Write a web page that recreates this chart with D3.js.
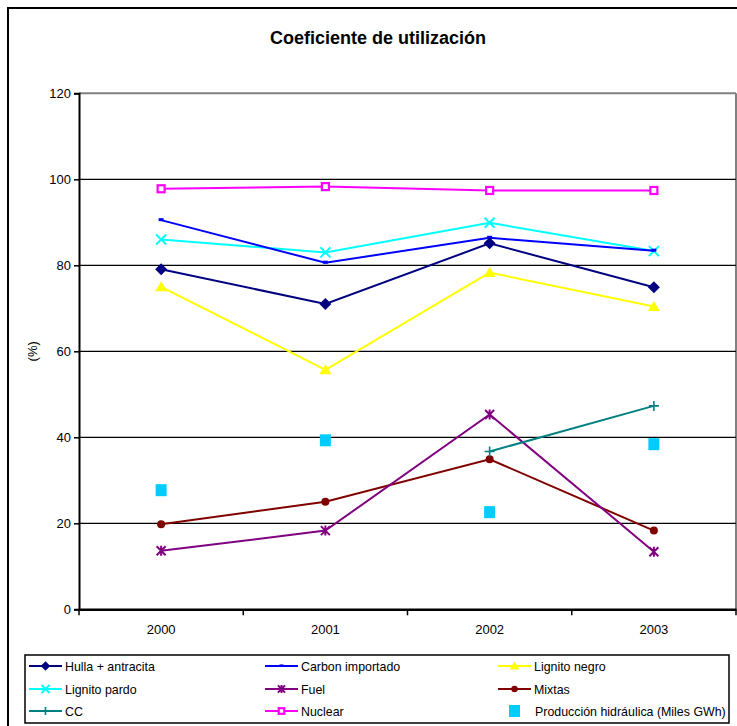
<!DOCTYPE html>
<html><head><meta charset="utf-8">
<script src="https://cdn.jsdelivr.net/npm/d3@7/dist/d3.min.js"></script>
<style>body{margin:0;background:#fff}svg{display:block;font-family:Arial,"Liberation Sans",sans-serif}</style>
</head><body><svg id="c" width="737" height="726"></svg>
<script>
const years = ["2000","2001","2002","2003"];
const yTicks = [0,20,40,60,80,100,120];
const hulla = [79.1, 71.0, 85.1, 74.9];
const carbon = [90.5, 80.6, 86.4, 83.4];
const lignitoNegro = [75.0, 55.7, 78.3, 70.4];
const lignitoPardo = [86.0, 83.0, 89.9, 83.3];
const fuel = [13.6, 18.3, 45.3, 13.4];
const mixtas = [19.8, 25.0, 34.9, 18.3];
const cc = [null, null, 36.7, 47.3];
const nuclear = [97.8, 98.3, 97.4, 97.4];
const hidraulica = [27.7, 39.3, 22.6, 38.4];

const series = [
  {name:"Hulla + antracita", values:hulla, color:"#000080", marker:"diamond"},
  {name:"Carbon importado", values:carbon, color:"#0000FF", marker:"dash"},
  {name:"Lignito negro", values:lignitoNegro, color:"#FFFF00", marker:"triangle"},
  {name:"Lignito pardo", values:lignitoPardo, color:"#00FFFF", marker:"x"},
  {name:"Fuel", values:fuel, color:"#800080", marker:"asterisk"},
  {name:"Mixtas", values:mixtas, color:"#800000", marker:"circle"},
  {name:"CC", values:cc, color:"#008080", marker:"plus"},
  {name:"Nuclear", values:nuclear, color:"#FF00FF", marker:"square"},
  {name:"Producción hidráulica (Miles GWh)", values:hidraulica, color:"#00CCFF", marker:"bigsquare", noLine:true}
];

const svg = d3.select("#c");
const L = 79, R = 736, T = 93.3, B = 609.3;
const x = d3.scaleBand().domain(years).range([L, R]);
const y = d3.scaleLinear().domain([0,120]).range([B, T]);

// outer frame
svg.append("rect").attr("x",8).attr("y",8).attr("width",760).attr("height",760)
  .attr("fill","none").attr("stroke","#000").attr("stroke-width",2);

// title
svg.append("text").attr("x",378).attr("y",43.5).attr("text-anchor","middle")
  .attr("font-size",18).attr("font-weight","bold").text("Coeficiente de utilización");

// plot border (gray top/right)
svg.append("line").attr("x1",L).attr("x2",R).attr("y1",T).attr("y2",T).attr("stroke","#808080").attr("stroke-width",2);
svg.append("line").attr("x1",R).attr("x2",R).attr("y1",T).attr("y2",B).attr("stroke","#808080").attr("stroke-width",2);

// gridlines
svg.append("g").selectAll("line").data(yTicks.filter(d=>d>0 && d<120)).join("line")
  .attr("x1",L).attr("x2",R).attr("y1",d=>y(d)).attr("y2",d=>y(d)).attr("stroke","#000").attr("stroke-width",1.3);

// y axis
const ya = svg.append("g").attr("transform",`translate(${L},0)`)
  .call(d3.axisLeft(y).tickValues(yTicks).tickSize(5).tickPadding(3));
ya.select(".domain").attr("stroke","#000").attr("stroke-width",2);
ya.selectAll(".tick line").attr("stroke","#000").attr("stroke-width",1.5);
ya.selectAll(".tick text").attr("font-size",13).attr("font-family","Arial, Liberation Sans").attr("fill","#000");

// x axis
const xa = svg.append("g").attr("transform",`translate(0,${B})`)
  .call(d3.axisBottom(x).tickSize(0).tickPadding(15));
xa.select(".domain").attr("stroke","#000").attr("stroke-width",2.5);
xa.selectAll(".tick text").attr("font-size",13).attr("font-family","Arial, Liberation Sans").attr("fill","#000");
// boundary ticks
const bounds = years.map(d=>x(d)).concat([R]);
svg.append("g").selectAll("line").data(bounds).join("line")
  .attr("x1",d=>d).attr("x2",d=>d).attr("y1",B).attr("y2",B+6).attr("stroke","#000").attr("stroke-width",1.5);

// y title
svg.append("text").attr("transform",`translate(37,${(T+B)/2}) rotate(-90)`).attr("text-anchor","middle")
  .attr("font-size",13).text("(%)");

function drawMarker(g, type, color, cx, cy, scale=1){
  const s = scale;
  switch(type){
    case "diamond":
      g.append("path").attr("d",`M${cx},${cy-6*s}L${cx+6*s},${cy}L${cx},${cy+6*s}L${cx-6*s},${cy}Z`).attr("fill",color); break;
    case "dash":
      g.append("rect").attr("x",cx-2.5*s).attr("y",cy-2*s).attr("width",5*s).attr("height",3*s).attr("fill",color); break;
    case "triangle":
      g.append("path").attr("d",`M${cx},${cy-5.5*s}L${cx+6*s},${cy+4.5*s}L${cx-6*s},${cy+4.5*s}Z`).attr("fill",color); break;
    case "x":
      g.append("path").attr("d",`M${cx-5*s},${cy-5*s}L${cx+5*s},${cy+5*s}M${cx+5*s},${cy-5*s}L${cx-5*s},${cy+5*s}`).attr("stroke",color).attr("stroke-width",2); break;
    case "asterisk":
      g.append("path").attr("d",`M${cx-4.5*s},${cy-4.5*s}L${cx+4.5*s},${cy+4.5*s}M${cx+4.5*s},${cy-4.5*s}L${cx-4.5*s},${cy+4.5*s}M${cx},${cy-5*s}L${cx},${cy+5*s}`).attr("stroke",color).attr("stroke-width",2); break;
    case "circle":
      g.append("circle").attr("cx",cx).attr("cy",cy).attr("r",4*s).attr("fill",color); break;
    case "plus":
      g.append("path").attr("d",`M${cx-5*s},${cy}L${cx+5*s},${cy}M${cx},${cy-5*s}L${cx},${cy+5*s}`).attr("stroke",color).attr("stroke-width",1.6); break;
    case "square":
      g.append("rect").attr("x",cx-3.5*s).attr("y",cy-3.5*s).attr("width",7*s).attr("height",7*s).attr("fill","#fff").attr("stroke",color).attr("stroke-width",2.2); break;
    case "bigsquare":
      g.append("rect").attr("x",cx-5.5).attr("y",cy-6).attr("width",11).attr("height",12).attr("fill",color); break;
  }
}

const cx = d => x(d) + x.bandwidth()/2;
const plot = svg.append("g");
const order = [2,3,1,0,7,5,4,6,8];
order.forEach(i=>{
  const s = series[i];
  const pts = years.map((yr,j)=>({yr, v:s.values[j]}));
  if(!s.noLine){
    const line = d3.line().defined(d=>d.v!=null).x(d=>cx(d.yr)).y(d=>y(d.v));
    plot.append("path").datum(pts).attr("d",line).attr("fill","none").attr("stroke",s.color).attr("stroke-width",2);
  }
  const g = plot.append("g");
  pts.filter(d=>d.v!=null).forEach(d=>drawMarker(g, s.marker, s.color, cx(d.yr), y(d.v)));
});

// legend
const lg = svg.append("g");
lg.append("rect").attr("x",25).attr("y",655).attr("width",704).attr("height",68).attr("fill","#fff").attr("stroke","#000").attr("stroke-width",1.5);
const colX = [29, 265, 498];
const rowY = [666, 689, 711];
series.forEach((s,i)=>{
  const r = Math.floor(i/3), c = i%3;
  const x0 = colX[c], yy = rowY[r];
  const g = lg.append("g");
  if(!s.noLine){
    g.append("line").attr("x1",x0).attr("x2",x0+33).attr("y1",yy).attr("y2",yy).attr("stroke",s.color).attr("stroke-width",2);
    drawMarker(g, s.marker, s.color, x0+16.5, yy, 0.8);
  } else {
    drawMarker(g, s.marker, s.color, x0+16.5, yy);
  }
  g.append("text").attr("x", s.noLine ? x0+37 : x0+36).attr("y",yy+4.5).attr("font-size",12.4).text(s.name);
});
</script></body></html>
